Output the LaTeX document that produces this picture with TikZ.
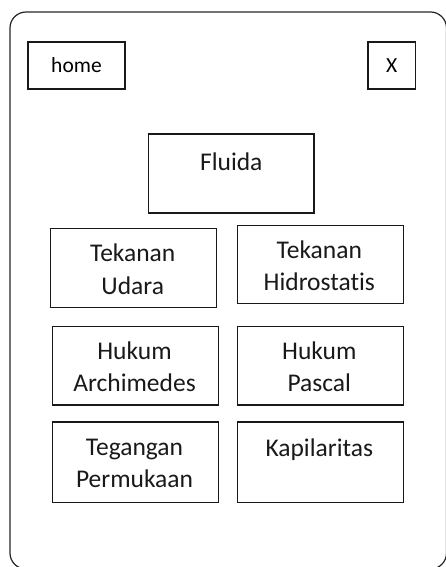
\documentclass[tikz,border=0pt]{standalone}
\usepackage{fontspec}
\setmainfont{Carlito}[Ligatures=NoCommon]
\begin{document}
\begin{tikzpicture}[x=1pt,y=-1pt,
  frame/.style={draw=black!85, line width=1.2pt, rounded corners=16pt},
  box/.style={draw=black!90, line width=1.2pt, inner sep=0pt},
  small/.style={box, font=\fontsize{21.5}{26}\selectfont},
  lbl/.style={font=\fontsize{25.5}{32.5}\selectfont, align=center, anchor=base, inner sep=0pt, text=black!90}]
\useasboundingbox (0,0) rectangle (446,567);
\draw[frame] (10,12) rectangle (446.5,569);
% top buttons
\node[small, minimum width=97pt, minimum height=47pt] (home) at (76.5,65.5) {home};
\node[small, minimum width=47.7pt, minimum height=47pt] (close) at (391.8,65.5) {X};
% boxes
\node[box, minimum width=165.3pt, minimum height=79pt] (fl) at (231.3,173.5) {};
\node[box, minimum width=166pt, minimum height=78.6pt] (tu) at (133.7,268) {};
\node[box, minimum width=166pt, minimum height=78.4pt] (th) at (320.3,264.5) {};
\node[box, minimum width=166.4pt, minimum height=78.7pt] (ha) at (135.5,365.7) {};
\node[box, minimum width=166pt, minimum height=78.7pt] (hp) at (320.3,365.7) {};
\node[box, minimum width=166.4pt, minimum height=80.7pt] (tp) at (135.5,462.3) {};
\node[box, minimum width=166pt, minimum height=80.7pt] (ka) at (320.3,462.3) {};
% labels (base = baseline of last line)
\node[lbl] (tfl) at (231.3,170.7) {Fluida};
\node[lbl] (ttu) at (132.7,294) {Tekanan\\Udara};
\node[lbl] (tth) at (319.3,290.5) {Tekanan\\Hidrostatis};
\node[lbl] (tha) at (134.5,391.5) {Hukum\\Archimedes};
\node[lbl] (thp) at (319.3,391.5) {Hukum\\Pascal};
\node[lbl] (ttp) at (134.5,487.5) {Tegangan\\Permukaan};
\node[lbl] (tka) at (319.3,456) {Kapilaritas};
\end{tikzpicture}
\end{document}
